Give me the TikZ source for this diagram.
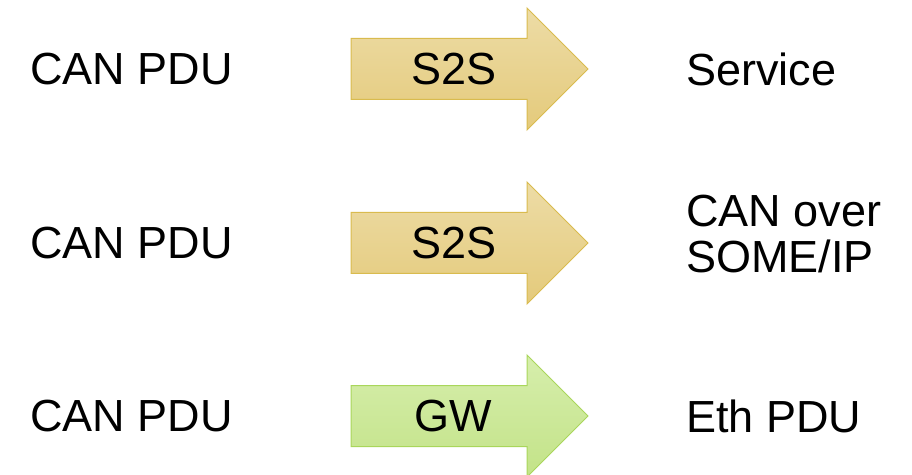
\documentclass[tikz,border=0pt]{standalone}
\usepackage{fontspec}
\setmainfont{Liberation Sans}

\definecolor{s2sTop}{HTML}{EDDCA6}
\definecolor{s2sBot}{HTML}{E4CA7B}
\definecolor{s2sLine}{HTML}{D9BB4E}
\definecolor{gwTop}{HTML}{D6EEAC}
\definecolor{gwBot}{HTML}{C3E388}
\definecolor{gwLine}{HTML}{A9D65B}

\tikzset{
  lbl/.style={inner sep=0pt, font=\fontsize{45}{46}\selectfont},
  s2sarrow/.style={draw=s2sLine, line width=1pt, top color=s2sTop, bottom color=s2sBot},
  gwarrow/.style={draw=gwLine, line width=1pt, top color=gwTop, bottom color=gwBot},
}

\begin{document}
\begin{tikzpicture}[x=1pt,y=1pt]
  \useasboundingbox (0,0) rectangle (912,474);

  % Block arrows (one per row)
  \foreach \c/\sty in {405/s2sarrow, 231/s2sarrow, 58/gwarrow}
    \draw[\sty] (351,\c+30.5) -- (527,\c+30.5) -- (527,\c+61) -- (588,\c)
      -- (527,\c-61) -- (527,\c-30.5) -- (351,\c-30.5) -- cycle;

  % Arrow labels
  \node[lbl] (op1) at (454,405) {S2S};
  \node[lbl] (op2) at (454,231) {S2S};
  \node[lbl] (op3) at (453,58) {GW};

  % Sources
  \node[lbl, anchor=west] (src1) at (30,405) {CAN PDU};
  \node[lbl, anchor=west] (src2) at (30,231) {CAN PDU};
  \node[lbl, anchor=west] (src3) at (30,58) {CAN PDU};

  % Targets
  \node[lbl, anchor=west] (dst1) at (686,405) {Service};
  \node[lbl, anchor=north west, align=left] (dst2) at (686,279) {CAN over\\SOME/IP};
  \node[lbl, anchor=west] (dst3) at (686,58) {Eth PDU};
\end{tikzpicture}
\end{document}
